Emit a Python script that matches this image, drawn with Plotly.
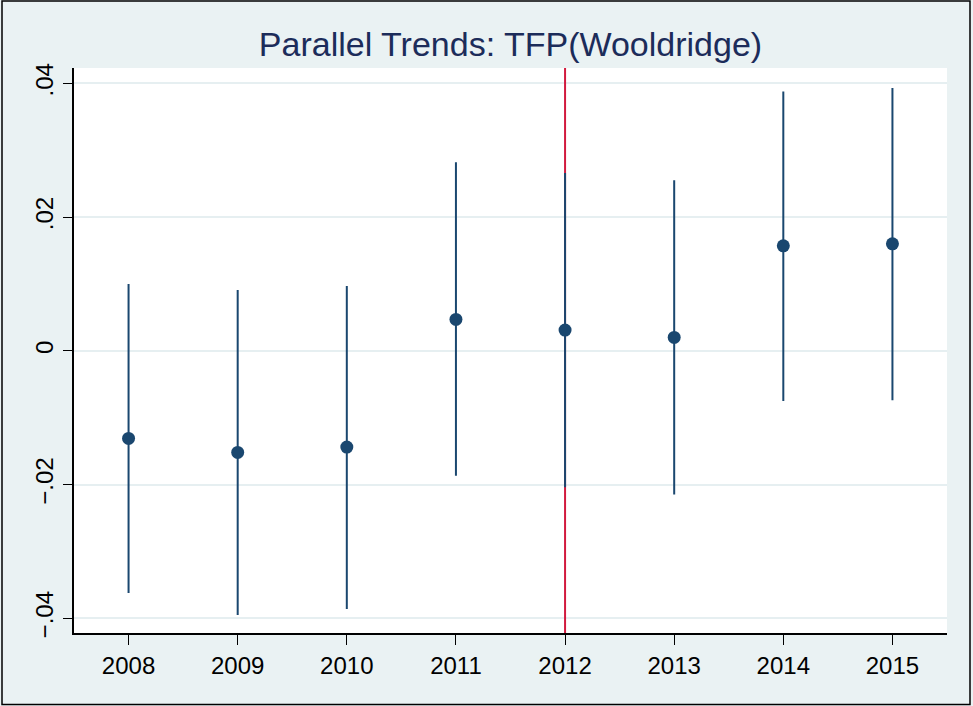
import plotly.graph_objects as go

# Event-study coefficients for TFP (Wooldridge) with 95% confidence bounds
years = [2008, 2009, 2010, 2011, 2012, 2013, 2014, 2015]
coef = [-0.0131, -0.0152, -0.0144, 0.0047, 0.0031, 0.0020, 0.0157, 0.0160]
ci_upper = [0.0100, 0.0091, 0.0097, 0.0282, 0.0266, 0.0255, 0.0388, 0.0393]
ci_lower = [-0.0362, -0.0395, -0.0386, -0.0187, -0.0204, -0.0215, -0.0075, -0.0074]

policy_year = 2012
y_range = [-0.0422, 0.0423]
y_ticks = [-0.04, -0.02, 0.0, 0.02, 0.04]
y_tick_text = ["\u2212.04", "\u2212.02", "0", ".02", ".04"]

NAVY = "#1a476f"
BG = "#eaf2f3"
RED = "#d21a3e"

fig = go.Figure()

# Policy-year reference line, spanning the full vertical range, under the estimates
fig.add_trace(go.Scatter(
    x=[policy_year, policy_year],
    y=y_range,
    mode="lines",
    line=dict(color=RED, width=2),
    showlegend=False,
    hoverinfo="skip",
))

fig.add_trace(go.Scatter(
    x=years,
    y=coef,
    mode="markers",
    marker=dict(size=13, color=NAVY),
    error_y=dict(
        type="data",
        symmetric=False,
        array=[u - c for u, c in zip(ci_upper, coef)],
        arrayminus=[c - l for c, l in zip(coef, ci_lower)],
        width=0,
        thickness=2,
        color=NAVY,
    ),
    showlegend=False,
    hoverinfo="x+y",
))

# Plot area is 873 x 565 px; the outer frame is expressed in paper units
PW, PH = 873.0, 565.0
fig.update_layout(
    width=973,
    height=706,
    margin=dict(l=74, r=26, t=68, b=73),
    paper_bgcolor=BG,
    plot_bgcolor="white",
    font=dict(family="Liberation Sans, Arial, sans-serif", color="black", size=24),
    title=dict(
        text="Parallel Trends: TFP(Wooldridge)",
        x=0.5,
        xref="paper",
        xanchor="center",
        y=1 - 44 / 706,
        yref="container",
        yanchor="middle",
        font=dict(size=34, color="#1c2c5a"),
    ),
    shapes=[
        dict(
            type="rect",
            xref="paper",
            yref="paper",
            x0=(2 - 74) / PW,
            x1=(970 - 74) / PW,
            y0=(633 - 704.5) / PH,
            y1=(633 - 1) / PH,
            line=dict(color="black", width=1.5),
            fillcolor="rgba(0,0,0,0)",
            layer="above",
        ),
    ],
)

fig.update_xaxes(
    range=[2007.5, 2015.5],
    tickvals=years,
    ticktext=[str(y) for y in years],
    ticks="outside",
    ticklen=10,
    tickwidth=1.3,
    tickcolor="black",
    showgrid=False,
    zeroline=False,
    showline=True,
    linecolor="black",
    linewidth=1.5,
    tickfont=dict(size=24),
)

fig.update_yaxes(
    range=y_range,
    tickvals=y_ticks,
    ticktext=y_tick_text,
    tickangle=-90,
    ticks="outside",
    ticklen=9,
    tickwidth=1.3,
    tickcolor="black",
    showgrid=True,
    gridcolor="#e6eff1",
    gridwidth=2,
    zeroline=False,
    showline=True,
    linecolor="black",
    linewidth=1.5,
    tickfont=dict(size=24),
    ticklabelstandoff=1,
)

fig.write_html("out.html")
